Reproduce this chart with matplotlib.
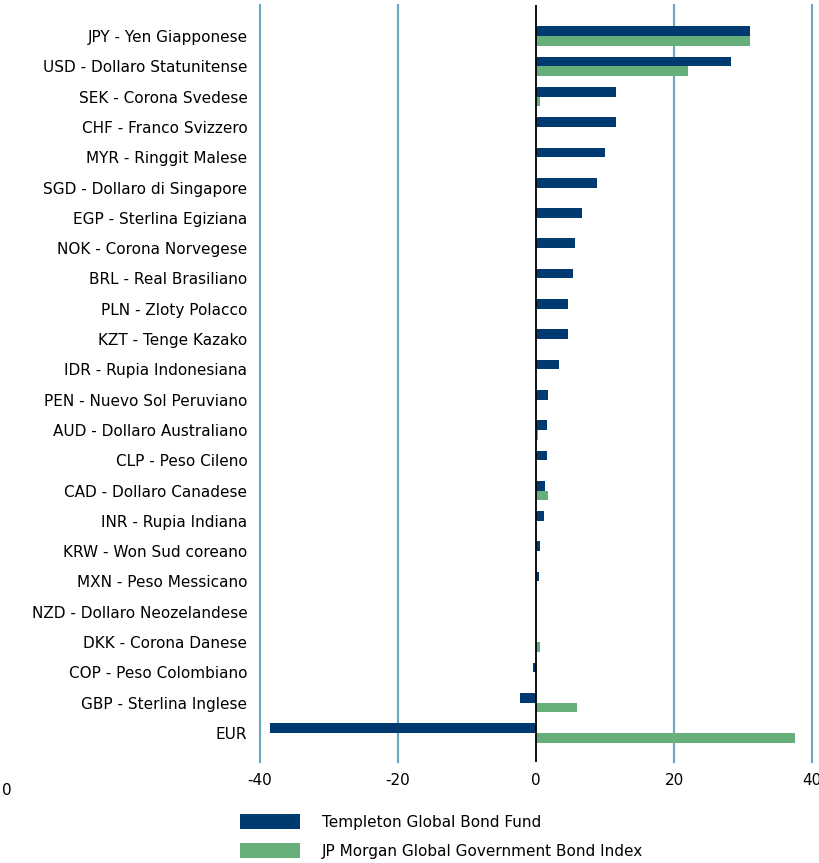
import matplotlib
matplotlib.use("Agg")
import matplotlib.pyplot as plt
import numpy as np

plt.rcParams['font.family'] = ['DejaVu Sans']

# currency labels, top to bottom
currencies = [
    "JPY - Yen Giapponese", "USD - Dollaro Statunitense", "SEK - Corona Svedese",
    "CHF - Franco Svizzero", "MYR - Ringgit Malese", "SGD - Dollaro di Singapore",
    "EGP - Sterlina Egiziana", "NOK - Corona Norvegese", "BRL - Real Brasiliano",
    "PLN - Zloty Polacco", "KZT - Tenge Kazako", "IDR - Rupia Indonesiana",
    "PEN - Nuevo Sol Peruviano", "AUD - Dollaro Australiano", "CLP - Peso Cileno",
    "CAD - Dollaro Canadese", "INR - Rupia Indiana", "KRW - Won Sud coreano",
    "MXN - Peso Messicano", "NZD - Dollaro Neozelandese", "DKK - Corona Danese",
    "COP - Peso Colombiano", "GBP - Sterlina Inglese", "EUR",
]
templeton = [31.0, 28.2, 11.6, 11.6, 10.0, 8.8, 6.6, 5.6, 5.3, 4.6, 4.6, 3.3,
             1.8, 1.6, 1.6, 1.3, 1.1, 0.6, 0.4, 0.0, 0.0, -0.4, -2.3, -38.6]
jpmorgan = [31.0, 22.0, 0.6, 0.0, 0.0, 0.0, 0.0, 0.0, 0.0, 0.0, 0.0, 0.0,
            0.0, 0.3, 0.0, 1.8, 0.0, 0.0, 0.0, 0.0, 0.6, 0.0, 5.9, 37.5]
series_names = ["Templeton Global Bond Fund", "JP Morgan Global Government Bond Index"]
xticks = [-40, -20, 0, 20, 40]

navy = "#003a70"
green = "#66ae7a"
gridc = "#6ea9c2"
fs = 11

fig = plt.figure(figsize=(8.2, 8.63), dpi=100)
ax = fig.add_axes([260 / 820, 0.117, 552 / 820, 0.877])

y = np.arange(len(currencies))
h = 0.32
ax.barh(y - h / 2, templeton, height=h, color=navy, label=series_names[0], zorder=2)
ax.barh(y + h / 2, jpmorgan, height=h, color=green, label=series_names[1], zorder=2)

ax.set_xlim(-40, 40)
ax.set_ylim(len(currencies) - 1 + 0.96, -1.02)
for xv in [-40, -20, 20, 40]:
    ax.axvline(xv, color=gridc, lw=1.6, zorder=1, clip_on=False)
ax.axvline(0, color="black", lw=1.3, zorder=3)

ax.set_yticks(y)
ax.set_yticklabels(currencies, fontsize=fs)
ax.set_xticks(xticks)
ax.set_xticklabels([str(t) for t in xticks], fontsize=fs)
ax.tick_params(length=0, pad=9)
ax.tick_params(axis='x', pad=8)
for s in ax.spines.values():
    s.set_visible(False)

# clipped leftover tick label at the far left
fig.text(0.002, 1 - 790 / 863, "0", fontsize=fs, ha="left", va="center")

ax.legend(loc="upper left", bbox_to_anchor=(240 / 820, 1 - 814 / 863),
          bbox_transform=fig.transFigure, frameon=False, fontsize=fs,
          handlelength=3.9, handleheight=1.15, handletextpad=1.45,
          labelspacing=0.85, borderpad=0, borderaxespad=0)

fig.savefig("out.png", dpi=100)
